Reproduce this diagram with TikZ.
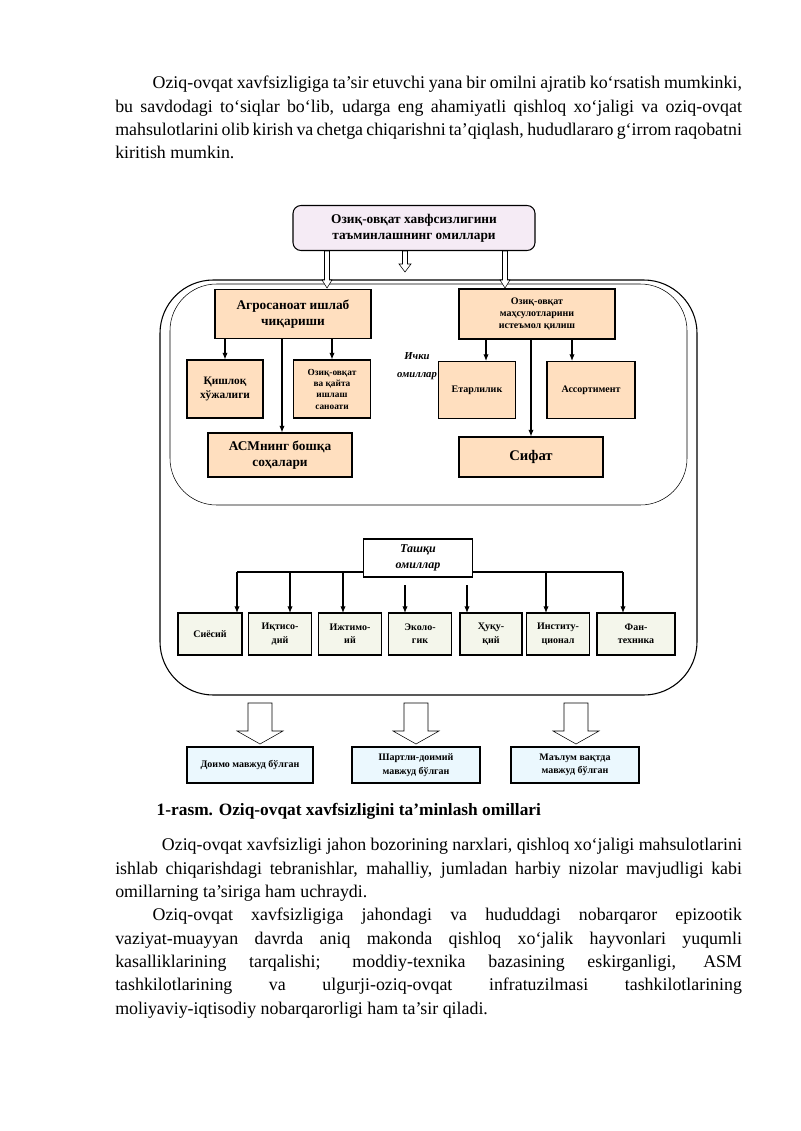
\documentclass[tikz,border=0pt]{standalone}
\usepackage{fontspec}
\setmainfont{Liberation Serif}
\usetikzlibrary{arrows.meta}
\hyphenpenalty=10000
\exhyphenpenalty=10000

\tikzset{
  bx/.style 2 args={draw, thick, minimum width=#1*0.75pt, minimum height=#2*0.75pt,
    inner sep=1pt, align=center, font=\fontsize{8.5}{10}\selectfont\bfseries},
  peach/.style={fill=orange!25!white},
  green/.style={fill=green!10!olive!8!white},
  blue/.style={fill=cyan!8!white},
  ar/.style={-{Latex[length=5pt,width=4pt]}, thick},
  para/.style={anchor=north west, text width=470pt, align=justify, inner sep=0pt,
    font=\fontsize{13.4}{17.5}\selectfont}
}
% hollow down arrow: x, top, bottom, half shaft, half head, head length
\newcommand{\hollowdown}[6]{%
  \draw[fill=white] (#1-#4,#2) -- (#1-#4,#3-#6) -- (#1-#5,#3-#6) -- (#1,#3)
    -- (#1+#5,#3-#6) -- (#1+#4,#3-#6) -- (#1+#4,#2) -- cycle;}

\begin{document}
\begin{tikzpicture}[x=0.75pt,y=-0.75pt]
  \useasboundingbox (0,0) rectangle (800,1131);

  % text above the figure
  \node[para] (txta) at (115,76) {\hyphenpenalty=10000\relax\hspace*{28pt}Oziq-ovqat xavfsizligiga ta’sir etuvchi yana bir omilni ajratib ko‘rsatish mumkinki, bu savdodagi to‘siqlar bo‘lib, udarga eng ahamiyatli qishloq xo‘jaligi va oziq-ovqat mahsulotlarini olib kirish va chetga chiqarishni ta’qiqlash, hududlararo g‘irrom raqobatni kiritish mumkin.};

  % frames
  \draw[thick, rounded corners=40] (160,280) rectangle (697,695);
  \draw[rounded corners=35] (170,284) rectangle (687,505);

  % top
  \node[bx={242}{45}, rounded corners=6, fill=violet!8!white, font=\fontsize{10}{12}\selectfont\bfseries] (top) at (414,228) {Озиқ-овқат хавфсизлигини\\таъминлашнинг омиллари};
  \hollowdown{327}{251}{288}{2.5}{5}{8}
  \hollowdown{405}{251}{272}{2.5}{6}{8}
  \hollowdown{505}{251}{288}{2.5}{5}{8}

  % inner factors
  \node[bx={156}{49}, peach, font=\fontsize{10}{12}\selectfont\bfseries] (agro) at (293,314) {Агросаноат ишлаб\\чиқариши};
  \node[bx={76}{58}, peach] (qish) at (225,389) {Қишлоқ\\хўжалиги};
  \node[bx={77}{58}, peach, font=\fontsize{7}{8.5}\selectfont\bfseries] (sanoat) at (332,389) {Озиқ-овқат\\ва қайта\\ишлаш\\саноати};
  \node[bx={144}{44}, peach, font=\fontsize{10}{12}\selectfont\bfseries] (asm) at (280,455) {АСМнинг бошқа\\соҳалари};
  \node[bx={156}{50}, peach, font=\fontsize{7.5}{9}\selectfont\bfseries] (istemol) at (537,314) {Озиқ-овқат\\маҳсулотларини\\истеъмол қилиш};
  \node[bx={77}{57}, peach, font=\fontsize{7.5}{9}\selectfont\bfseries] (etar) at (477,390) {Етарлилик};
  \node[bx={88}{57}, peach, font=\fontsize{7.5}{9}\selectfont\bfseries] (assort) at (591,390) {Ассортимент};
  \node[bx={144}{40}, peach, font=\fontsize{11}{13}\selectfont\bfseries] (sifat) at (531,457) {Сифат};
  \node[font=\fontsize{8}{14}\selectfont\bfseries\itshape, align=center] (ichki) at (417,366) {Ички\\омиллар};

  \draw[ar] (agro.south -| qish) -- (qish);
  \draw[ar] (agro.south -| sanoat) -- (sanoat);
  \draw[ar] (asm.north -| 282,0) ++(0,-94) -- (asm.north -| 282,0);
  \draw[ar] (istemol.south -| 486,0) -- (etar.north -| 486,0);
  \draw[ar] (istemol.south -| 572,0) -- (assort.north -| 572,0);
  \draw[ar] (istemol.south -| 531,0) -- (sifat.north -| 531,0);

  % outer factors
  \node[bx={109}{38}, font=\fontsize{9}{12}\selectfont\bfseries\itshape] (tashqi) at (418,558) {Ташқи\\омиллар};
  \foreach \nm/\x/\w/\t in {siyos/210/64/Сиёсий, iqt/280/63/Иқтисо-\\дий, ijt/350/63/Ижтимо-\\ий, eko/420/63/Эколо-\\гик, huq/491/62/Ҳуқу-\\қий, inst/558/63/Институ-\\ционал, fan/636/78/Фан-\\техника}
    \node[bx={\w}{42}, green, font=\fontsize{7.5}{10}\selectfont\bfseries] (\nm) at (\x,634) {\t};
  \coordinate (hl) at (237,572);
  \coordinate (hr) at (623,572);
  \draw[thick] (tashqi.west |- hl) -- (hl);
  \draw[thick] (tashqi.east |- hr) -- (hr);
  \foreach \x in {237,290,343}
    \draw[ar] (\x,572) -- (\x,613);
  \foreach \x in {546,623}
    \draw[ar] (\x,572) -- (\x,613);
  \foreach \x in {405,467}
    \draw[ar] (\x,585) -- (\x,613);

  % results
  \hollowdown{260}{703}{744}{12}{23}{13}
  \hollowdown{416}{703}{744}{12}{23}{13}
  \hollowdown{576}{703}{744}{12}{23}{13}
  \node[bx={126}{36}, blue, font=\fontsize{7.5}{10}\selectfont\bfseries] (doimo) at (250,765) {Доимо мавжуд бўлган};
  \node[bx={128}{36}, blue, font=\fontsize{7.5}{10}\selectfont\bfseries] (shartli) at (416,765) {Шартли-доимий\\мавжуд бўлган};
  \node[bx={128}{36}, blue, font=\fontsize{7.5}{10}\selectfont\bfseries] (malum) at (575,765) {Маълум вақтда\\мавжуд бўлган};

  % caption and text below
  \node[anchor=west, font=\fontsize{13}{14}\selectfont\bfseries] (cap) at (152,811) {1-rasm. Oziq-ovqat xavfsizligini ta’minlash omillari};
  \node[para] (txtb) at (115,838) {\hyphenpenalty=10000\relax\hspace*{35pt}Oziq-ovqat xavfsizligi jahon bozorining narxlari, qishloq xo‘jaligi mahsulotlarini ishlab chiqarishdagi tebranishlar, mahalliy, jumladan harbiy nizolar mavjudligi kabi omillarning ta’siriga ham uchraydi.\par
  \hspace*{28pt}Oziq-ovqat xavfsizligiga jahondagi va hududdagi nobarqaror epizootik vaziyat-muayyan davrda aniq makonda qishloq xo‘jalik hayvonlari yuqumli kasalliklarining tarqalishi; moddiy-texnika bazasining eskirganligi, ASM tashkilotlarining va ulgurji-oziq-ovqat infratuzilmasi tashkilotlarining moliyaviy-iqtisodiy nobarqarorligi ham ta’sir qiladi.};
\end{tikzpicture}
\end{document}
